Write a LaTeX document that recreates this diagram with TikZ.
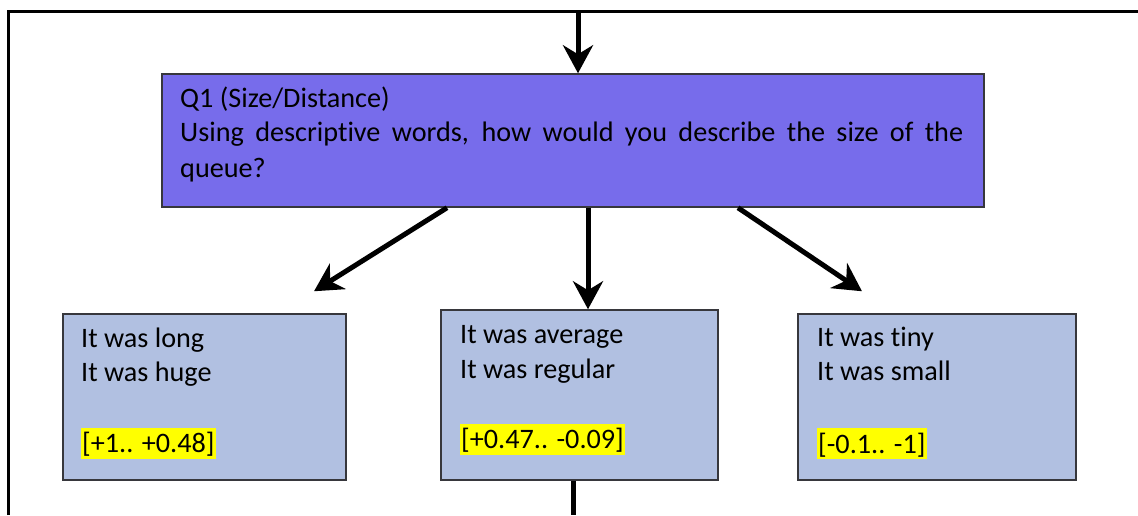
\documentclass[tikz,border=0pt]{standalone}
\usepackage{fontspec}
\setmainfont{Carlito}[Ligatures={NoCommon,NoDiscretionary,NoContextual}]
\usetikzlibrary{arrows.meta,calc}
\definecolor{qfill}{RGB}{119,108,235}
\definecolor{afill}{RGB}{177,192,225}
\definecolor{hlyellow}{RGB}{255,255,0}
\definecolor{boxline}{RGB}{55,55,60}
\begin{document}
\begin{tikzpicture}[x=1pt,y=-1pt,
  box/.style={draw=boxline,line width=1.5pt,inner sep=0pt,rectangle},
  qbox/.style={box,fill=qfill,minimum width=822pt,minimum height=133pt},
  abox/.style={box,fill=afill},
  txt/.style={anchor=base west,inner sep=0pt,font=\fontsize{28.2}{35}\selectfont},
  hlbox/.style={txt,fill=hlyellow,text height=25pt,text depth=6pt,inner xsep=1pt},
  arr/.style={line width=5pt,-{Stealth[length=28pt,width=30pt,inset=9pt]}},
  frame/.style={line width=3pt},
]
\useasboundingbox (0,0) rectangle (1138,515);

% outer frame, open to the right and bottom
\draw[frame] (8,515) -- (8,11) -- (1138,11);

% question box
\node[qbox] (q1) at (573,140.5) {};
\node[txt] (q1a) at (180,107) {Q1 (Size/Distance)};
\node[txt] (q1b) at (180,141.5) {\makebox[783pt][s]{Using descriptive words, how would you describe the size of the}};
\node[txt] (q1c) at (180,177) {queue?};

% answer boxes
\node[abox,minimum width=283pt,minimum height=166pt] (b1) at (204.5,397) {};
\node[abox,minimum width=277pt,minimum height=170pt] (b2) at (579.5,395) {};
\node[abox,minimum width=278pt,minimum height=166pt] (b3) at (937,397) {};

\node[txt] (b1a) at (81,347) {It was long};
\node[txt] (b1b) at (81,381.5) {It was huge};
\node[hlbox] (b1c) at (81,452.5) {[+1.. +0.48]};

\node[txt] (b2a) at (460,343) {It was average};
\node[txt] (b2b) at (460,378) {It was regular};
\node[hlbox] (b2c) at (460,448.5) {[+0.47.. -0.09]};

\node[txt] (b3a) at (817,346.5) {It was tiny};
\node[txt] (b3b) at (817,380.5) {It was small};
\node[hlbox] (b3c) at (817,453) {[-0.1.. -1]};

% connectors
\coordinate (topin) at (578,11);
\coordinate (midx) at (588,0);
\coordinate (outx) at (573,515);
\draw[arr] (topin) -- (topin |- q1.north);
\draw[arr] ($(q1.south)+(-126,0)$) -- ($(b1.north)+(109.5,-22)$);
\draw[arr] (q1.south -| midx) -- (b2.north -| midx);
\draw[arr] ($(q1.south)+(165,0)$) -- ($(b3.north)+(-75,-22)$);
\draw[line width=5pt] (b2.south -| outx) -- (outx);
\end{tikzpicture}
\end{document}
